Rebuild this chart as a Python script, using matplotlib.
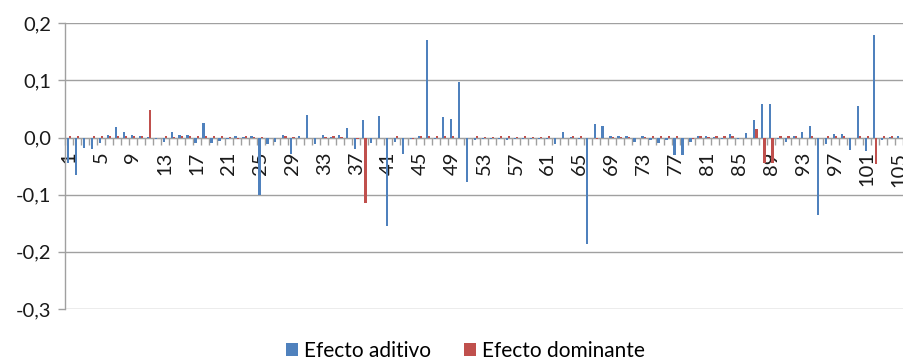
import matplotlib
matplotlib.use('Agg')
import matplotlib.pyplot as plt
import numpy as np
from matplotlib.ticker import FixedLocator, FuncFormatter

plt.rcParams['font.family'] = ['Lato', 'DejaVu Sans']

# Datos (marcadores 1..105)
marcadores = list(range(1, 106))

efecto_aditivo = [
    -0.044, -0.065, -0.019, -0.020, -0.009, 0.005, 0.019, 0.010, 0.005, 0.002,
    0.001, -0.002, -0.007, 0.010, 0.005, 0.005, -0.010, 0.026, -0.009, -0.006,
    -0.003, 0.002, 0.001, 0.002, -0.100, -0.012, -0.008, 0.004, -0.028, 0.002,
    0.040, -0.011, 0.004, 0.001, 0.004, 0.017, -0.020, 0.030, -0.009, 0.038,
    -0.155, -0.008, -0.028, -0.002, 0.002, 0.170, -0.003, 0.036, 0.032, 0.097,
    -0.078, -0.004, -0.003, -0.003, -0.003, -0.004, -0.003, -0.002, -0.003, -0.003,
    -0.003, -0.012, 0.009, 0.001, -0.003, -0.186, 0.023, 0.021, 0.002, 0.002,
    0.002, -0.007, 0.002, -0.004, -0.009, -0.004, -0.030, -0.031, -0.008, 0.002,
    0.003, 0.001, -0.003, 0.006, -0.003, 0.008, 0.030, 0.058, 0.058, -0.003,
    -0.007, 0.002, 0.009, 0.021, -0.136, -0.012, 0.006, 0.006, -0.022, 0.055,
    -0.023, 0.180, -0.004, 0.001, 0.002,
]

efecto_dominante = [
    0.002, 0.002, -0.001, 0.002, 0.002, 0.002, 0.002, 0.003, 0.002, 0.002,
    0.049, 0.000, 0.002, 0.001, 0.002, 0.002, 0.002, 0.002, 0.002, 0.002,
    0.001, -0.003, 0.002, 0.001, 0.001, 0.000, 0.000, 0.002, 0.001, 0.000,
    0.000, 0.000, 0.001, 0.002, 0.001, 0.000, -0.003, -0.115, 0.000, 0.000,
    0.000, 0.002, 0.000, -0.003, 0.003, 0.002, 0.002, 0.002, 0.002, 0.000,
    0.000, 0.002, 0.001, 0.001, 0.002, 0.003, 0.001, 0.003, 0.001, 0.001,
    0.002, 0.000, 0.000, 0.002, 0.002, 0.000, -0.002, 0.000, 0.001, 0.001,
    0.001, 0.000, 0.001, 0.002, 0.002, 0.002, 0.002, 0.000, -0.003, 0.003,
    0.001, 0.002, 0.002, 0.002, 0.000, 0.000, 0.015, -0.045, -0.045, 0.002,
    0.002, 0.002, 0.000, 0.002, 0.000, 0.002, 0.002, 0.002, 0.000, 0.002,
    0.002, -0.047, 0.002, 0.002, 0.000,
]

etiquetas_x = list(range(1, 106, 4))
ticks_y = [-0.3, -0.2, -0.1, 0.0, 0.1, 0.2]

AZUL = '#4F81BD'
ROJO = '#C0504D'
GRIS = '#A0A0A0'

fig = plt.figure(figsize=(9.04, 3.63), dpi=100)
ax = fig.add_axes([0.0719, 0.1488, 0.927, 0.787])

x = np.array(marcadores)
ancho = 0.28
ax.bar(x - ancho / 2, efecto_aditivo, width=ancho, color=AZUL,
       label='Efecto aditivo', zorder=3)
ax.bar(x + ancho / 2, efecto_dominante, width=ancho, color=ROJO,
       label='Efecto dominante', zorder=3)

ax.set_xlim(0.5, 105.5)
ax.set_ylim(-0.3, 0.2)

# Eje Y
ax.set_yticks(ticks_y)
ax.yaxis.set_major_formatter(
    FuncFormatter(lambda v, p: f'{v:.1f}'.replace('.', ',')))
ax.yaxis.grid(True, color=GRIS, linewidth=1.0, zorder=0)
ax.tick_params(axis='y', length=5, width=1.0, color=GRIS, pad=5,
               labelsize=14.5, labelcolor='#1a1a1a')

# Eje X cruzando en cero
ax.spines['bottom'].set_position(('data', 0))
ax.spines['bottom'].set_color(GRIS)
ax.spines['left'].set_color(GRIS)
ax.spines['left'].set_linewidth(1.0)
ax.spines['top'].set_visible(False)
ax.spines['right'].set_visible(False)

ax.xaxis.set_major_locator(FixedLocator(etiquetas_x))
ax.set_xticklabels([str(v) for v in etiquetas_x], rotation=90, va='top')
ax.xaxis.set_minor_locator(FixedLocator(np.arange(0.5, 106, 1.0)))
ax.tick_params(axis='x', which='major', length=0, pad=10, labelsize=14.5,
               labelcolor='#1a1a1a')
ax.tick_params(axis='x', which='minor', length=5, width=1.0, color=GRIS,
               direction='out')

fig.legend(loc='lower center', bbox_to_anchor=(0.515, -0.045), ncol=2,
           frameon=False, fontsize=15, handlelength=0.55, handleheight=0.6,
           handletextpad=0.3, columnspacing=1.6)

fig.savefig('out.png', dpi=100)
